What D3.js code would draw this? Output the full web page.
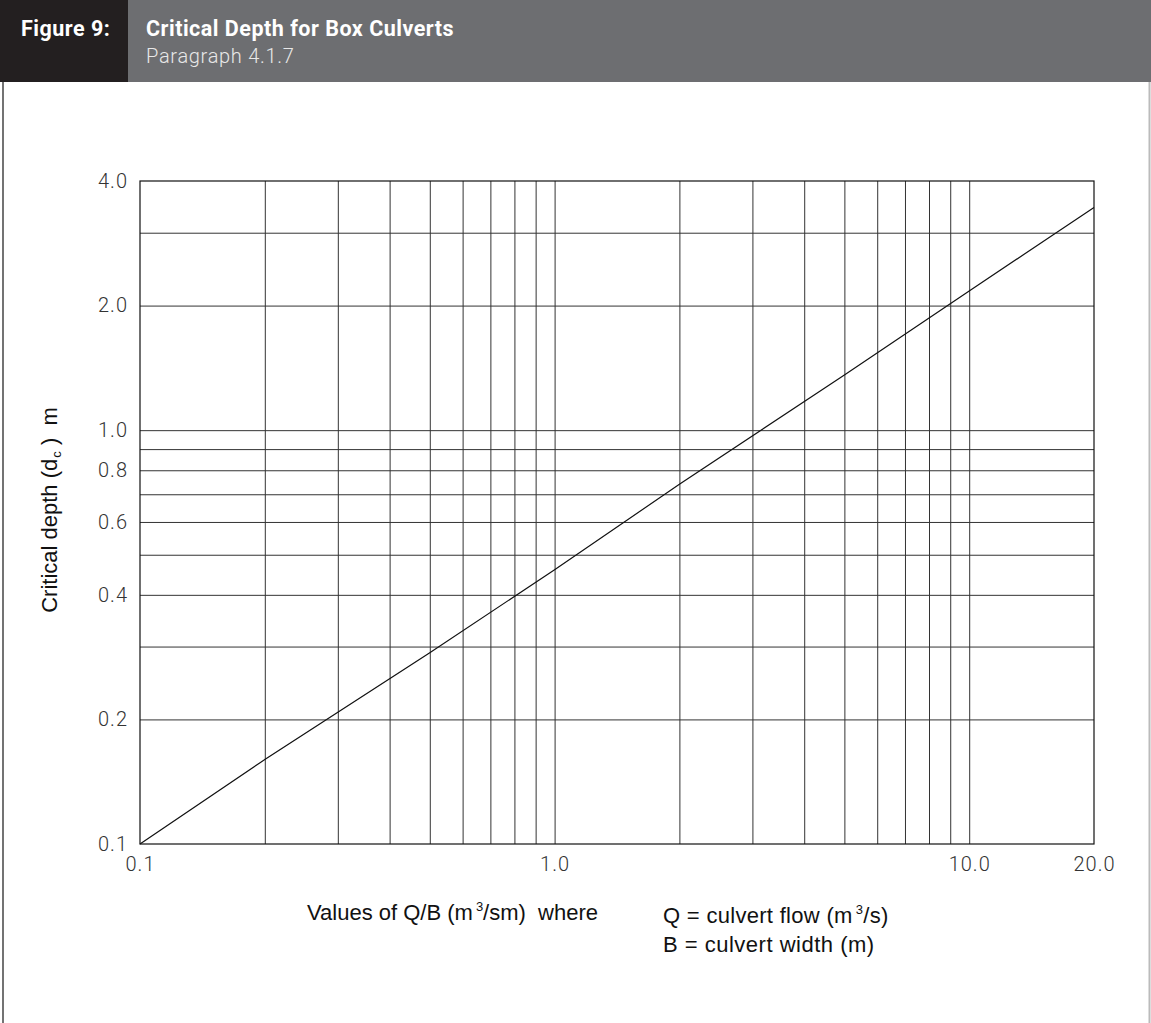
<!DOCTYPE html>
<html lang="en">
<meta charset="UTF-8">
<script src="https://d3js.org/d3.v7.min.js"></script>
<title>Critical Depth for Box Culverts</title>
<style>
  body { margin: 0; background: #fff; }
  svg { display: block; }
  .tick line { stroke: #333; }
  .domain { display: none; }
  .lab text { font-family: Roboto, sans-serif; font-weight: 300; font-size: 20px; fill: #333; letter-spacing: 1px; }
  .ttl { font-family: "Liberation Sans", Arial, sans-serif; font-size: 22px; fill: #111; white-space: pre; }
</style>
<svg id="canvas"></svg>
<script>
// data
let qValues = [0.1, 0.2, 0.5, 1.0, 2.0, 5.0, 10.0, 20.0]
let dcValues = [0.1, 0.16, 0.29, 0.46, 0.74, 1.36, 2.17, 3.45]
let xGrid = [0.2, 0.3, 0.4, 0.5, 0.6, 0.7, 0.8, 0.9, 1, 2, 3, 4, 5, 6, 7, 8, 9, 10]
let yGrid = [0.2, 0.3, 0.4, 0.5, 0.6, 0.7, 0.8, 0.9, 1, 2, 3]
let xLabels = [0.1, 1, 10, 20]
let yLabels = [0.1, 0.2, 0.4, 0.6, 0.8, 1, 2, 4]

let width = 1151
let height = 1023
let plotLeft = 140, plotRight = 1094, plotTop = 181, plotBottom = 844

let svg = d3.select('#canvas').attr('width', width).attr('height', height)

// header band
svg.append('rect').attr('x', 0).attr('y', 0).attr('width', width).attr('height', 82).attr('fill', '#6d6e71')
svg.append('rect').attr('x', 0).attr('y', 0).attr('width', 128).attr('height', 82).attr('fill', '#231f20')
svg.append('text').attr('x', 21).attr('y', 36).text('Figure 9:')
    .attr('font-family', 'Roboto').attr('font-weight', 'bold').attr('font-size', 21.5)
    .attr('letter-spacing', 0.5).attr('fill', '#fff')
svg.append('text').attr('x', 146).attr('y', 36).text('Critical Depth for Box Culverts')
    .attr('font-family', 'Roboto').attr('font-weight', 'bold').attr('font-size', 21.5)
    .attr('letter-spacing', 0.5).attr('fill', '#fff')
svg.append('text').attr('x', 146).attr('y', 63).text('Paragraph 4.1.7')
    .attr('font-family', 'Roboto').attr('font-weight', 300).attr('font-size', 20)
    .attr('letter-spacing', 0.7).attr('fill', '#e8e8e8')

// panel side borders
svg.append('line').attr('x1', 3).attr('x2', 3).attr('y1', 82).attr('y2', height).attr('stroke', '#444').attr('stroke-width', 1.5)
svg.append('line').attr('x1', 1149.5).attr('x2', 1149.5).attr('y1', 82).attr('y2', height).attr('stroke', '#bbb').attr('stroke-width', 2)

let xScale = d3.scaleLog().domain([0.1, 20]).range([plotLeft, plotRight])
let yScale = d3.scaleLog().domain([0.1, 4]).range([plotBottom, plotTop])

// gridlines
svg.append('g').attr('transform', 'translate(0,' + plotBottom + ')')
    .call(d3.axisBottom(xScale).tickValues(xGrid).tickSize(-(plotBottom - plotTop)).tickFormat(''))
svg.append('g').attr('transform', 'translate(' + plotLeft + ',0)')
    .call(d3.axisLeft(yScale).tickValues(yGrid).tickSize(-(plotRight - plotLeft)).tickFormat(''))

// frame
svg.append('rect').attr('x', plotLeft).attr('y', plotTop).attr('width', plotRight - plotLeft).attr('height', plotBottom - plotTop)
    .attr('fill', 'none').attr('stroke', '#111').attr('stroke-width', 1.2)

// tick labels
svg.append('g').attr('class', 'lab').attr('transform', 'translate(0,' + plotBottom + ')')
    .call(d3.axisBottom(xScale).tickValues(xLabels).tickSize(0).tickPadding(13).tickFormat(d3.format('.1f')))
svg.append('g').attr('class', 'lab').attr('transform', 'translate(' + plotLeft + ',0)')
    .call(d3.axisLeft(yScale).tickValues(yLabels).tickSize(0).tickPadding(12).tickFormat(d3.format('.1f')))

// curve
let line = d3.line().x((d, i) => xScale(qValues[i])).y((d) => yScale(d))
svg.append('path').datum(dcValues).attr('d', line).attr('fill', 'none').attr('stroke', '#111').attr('stroke-width', 1.2)

// axis titles
let yt = svg.append('text').attr('class', 'ttl').attr('transform', 'translate(57,510) rotate(-90)').attr('text-anchor', 'middle')
yt.append('tspan').text('Critical depth (d')
yt.append('tspan').text('c').attr('font-size', 13).attr('dy', 4).attr('dx', 1)
yt.append('tspan').text(' )  m').attr('dy', -4)

let xt = svg.append('text').attr('class', 'ttl').attr('x', 307).attr('y', 920)
xt.append('tspan').text('Values of Q/B (m')
xt.append('tspan').text('3').attr('font-size', 13).attr('dy', -9).attr('dx', 3)
xt.append('tspan').text('/sm)  where').attr('dy', 9)

let qt = svg.append('text').attr('class', 'ttl').attr('x', 663).attr('y', 923).attr('letter-spacing', 0.3)
qt.append('tspan').text('Q = culvert flow (m')
qt.append('tspan').text('3').attr('font-size', 13).attr('dy', -9).attr('dx', 3)
qt.append('tspan').text('/s)').attr('dy', 9)

svg.append('text').attr('class', 'ttl').attr('x', 663).attr('y', 952).attr('letter-spacing', 0.5)
    .text('B = culvert width (m)')
</script>
</html>
